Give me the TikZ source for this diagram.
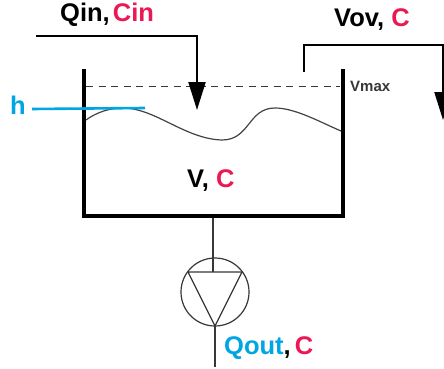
\documentclass[tikz,border=0pt]{standalone}
\usepackage{fontspec}
\setmainfont{Liberation Sans}
\usetikzlibrary{arrows.meta}
\definecolor{crim}{RGB}{236,24,84}
\definecolor{sky}{RGB}{0,165,228}
\definecolor{ink}{RGB}{20,20,20}
\begin{document}
\begin{tikzpicture}[x=1pt,y=-1pt,
  label/.style={font=\bfseries\fontsize{25.5}{28}\selectfont,inner sep=0pt,anchor=base west},
  wall/.style={draw=black,line width=4.4pt,line join=miter},
  pipe/.style={draw=black,line width=2.2pt},
  thin/.style={draw=ink!85,line width=1.2pt},
  flowtip/.style={-{Triangle[length=28pt,width=17pt]}}]
\useasboundingbox (0,0) rectangle (444,369);
\clip (0,0) rectangle (444,369);
\definecolor{w}{rgb}{1,1,1}
\fill[w] (0,0) rectangle (444,369);
% tank
\coordinate (wl) at (84,69);
\coordinate (wr) at (343,69);
\draw[wall] (wl) |- (343,216) -- (wr);
% Vmax line
\coordinate (d1) at (86,86);
\coordinate (d2) at (340,86);
\draw[thin,line width=.9pt,dash pattern=on 7pt off 5.5pt] (d1) -- (d2);
% surface
\draw[draw=ink!80,line width=1.2pt] (86,120) .. controls (97,112) and (110,108) .. (123,108)
  .. controls (155,108) and (185,139) .. (222,140)
  .. controls (250,140) and (248,108) .. (275,108)
  .. controls (295,108) and (320,122) .. (341,131);
% inflow
\coordinate (qa) at (36,36);
\coordinate (qb) at (197,36);
\coordinate (qc) at (197,110);
\draw[pipe,flowtip] (qa) -- (qb) -- (qc);
% overflow
\coordinate (va) at (304,72);
\coordinate (vb) at (304,45);
\coordinate (vc) at (443,45);
\coordinate (vd) at (443,120);
\draw[pipe,flowtip] (va) -- (vb) -- (vc) -- (vd);
% level
\coordinate (ha) at (32,109);
\coordinate (hb) at (145,108);
\draw[draw=sky,line width=2.6pt] (ha) -- (hb);
% pump
\node[circle,draw=ink!85,line width=1.2pt,minimum size=68pt,inner sep=0pt] (pump) at (215,292) {};
\coordinate (p1) at (188,272);
\coordinate (p2) at (242,272);
\coordinate (p3) at (215,326);
\draw[thin] (p1) -- (p2) -- (p3) -- cycle;
\coordinate (oa) at (213,218);
\coordinate (ob) at (213,272);
\draw[thin] (oa) -- (ob);
\coordinate (oc) at (215,367);
\draw[thin] (p3) -- (oc);
% labels
\node[label] (qin) at (60,22) {Qin,\hspace{.12em}\textcolor{crim}{Cin}};
\node[label] (vov) at (334,27) {Vov, \textcolor{crim}{C}};
\node[label] (vc2) at (187,187) {V, \textcolor{crim}{C}};
\node[label] (qout) at (224,354) {\textcolor{sky}{Qout},\hspace{.16em}\textcolor{crim}{C}};
\node[label,text=sky] (h) at (10,114) {h};
\node[font=\bfseries\fontsize{15}{17}\selectfont,text=ink!85,inner sep=0pt,anchor=base west] (vm) at (350,91) {Vmax};
\end{tikzpicture}
\end{document}
